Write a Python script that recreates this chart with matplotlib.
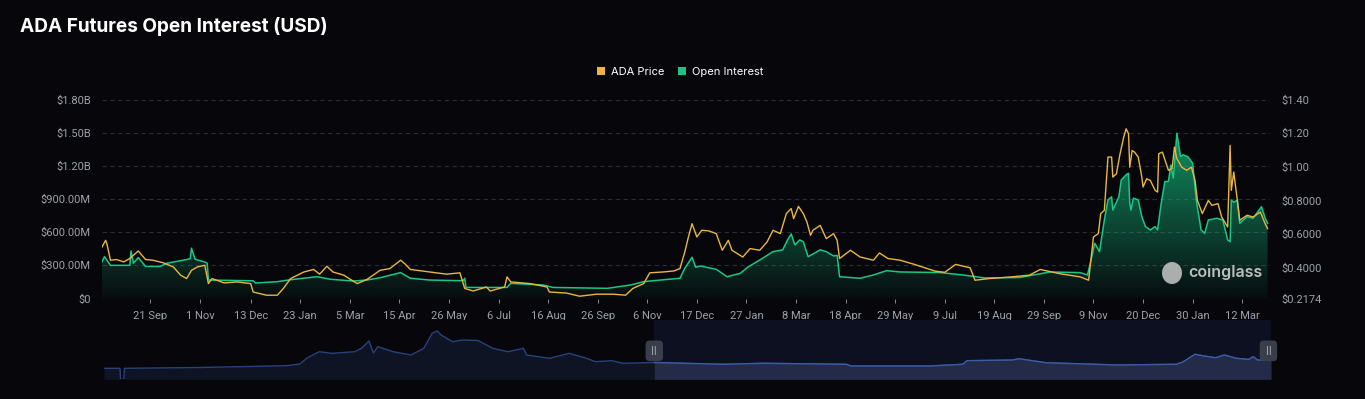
import numpy as np
import pandas as pd
import matplotlib
matplotlib.use('Agg')
import matplotlib.pyplot as plt
import matplotlib.dates as mdates
import matplotlib.transforms as mtransforms
from matplotlib.patches import Patch, Ellipse

# ---------------- data ----------------
BASE_DATE = '2022-08-12'
WINDOW_DAYS = 966

oi_days = [0, 2, 7, 23, 24, 26, 30, 36, 48, 54, 69, 73, 74, 77, 85, 87, 88, 125, 127, 145,
           156, 178, 189, 208, 219, 230, 247, 255, 271, 296, 299, 300, 301, 335, 338, 365, 373, 418, 437, 448,
           453, 478, 482, 488, 491, 495, 508, 517, 528, 534, 544, 555, 563, 567, 570, 573, 577, 580, 584, 594,
           599, 605, 608, 610, 616, 627, 638, 649, 660, 693, 714, 730, 759, 784, 809, 815, 818, 821, 825, 829,
           832, 835, 836, 841, 843, 847, 849, 850, 851, 853, 857, 860, 863, 867, 871, 873, 876, 879, 882, 884,
           886, 889, 892, 894, 898, 902, 905, 909, 912, 915, 922, 927, 931, 933, 934, 936, 939, 941, 947, 952,
           959, 962, 964]
oi_values = [0.333, 0.378, 0.30, 0.30, 0.43, 0.32, 0.37, 0.29, 0.29, 0.32, 0.35, 0.36, 0.455, 0.355, 0.33, 0.32, 0.167, 0.16, 0.14, 0.152,
             0.17, 0.197, 0.174, 0.158, 0.167, 0.188, 0.234, 0.183, 0.167, 0.161, 0.165, 0.183, 0.10, 0.10, 0.137, 0.122, 0.10, 0.092, 0.122, 0.152,
             0.158, 0.183, 0.273, 0.373, 0.283, 0.294, 0.264, 0.197, 0.228, 0.283, 0.348, 0.424, 0.44, 0.53, 0.584, 0.484, 0.53, 0.514, 0.378, 0.44,
             0.424, 0.385, 0.39, 0.197, 0.192, 0.183, 0.213, 0.252, 0.24, 0.235, 0.21, 0.186, 0.19, 0.24, 0.234, 0.213, 0.348, 0.50, 0.424, 0.71,
             0.892, 0.92, 0.80, 0.92, 1.073, 1.118, 1.133, 0.862, 0.80, 0.907, 0.892, 0.74, 0.65, 0.62, 0.65, 0.62, 0.86, 1.057, 1.06, 1.208,
             1.088, 1.495, 1.283, 1.30, 1.283, 1.224, 0.892, 0.62, 0.59, 0.71, 0.726, 0.71, 0.53, 0.514, 0.89, 0.87, 0.89, 0.68, 0.74, 0.726,
             0.83, 0.726, 0.68]  # billions USD

price_days = [0, 3, 4, 7, 12, 18, 23, 30, 36, 42, 51, 59, 65, 70, 74, 79, 85, 88, 91, 101,
              112, 123, 125, 136, 145, 150, 156, 167, 175, 180, 186, 191, 200, 211, 219, 230, 238, 247, 251, 255,
              271, 285, 296, 300, 307, 318, 321, 333, 335, 338, 354, 368, 370, 384, 395, 409, 423, 433, 439, 448,
              453, 464, 473, 478, 482, 485, 488, 492, 496, 502, 508, 513, 518, 521, 530, 536, 544, 550, 555, 561,
              566, 570, 572, 576, 580, 583, 586, 588, 594, 599, 605, 608, 610, 619, 627, 638, 643, 650, 660, 672,
              689, 697, 706, 718, 722, 734, 751, 767, 776, 792, 809, 816, 820, 824, 826, 829, 832, 835, 836, 839,
              842, 845, 847, 849, 850, 852, 854, 857, 860, 861, 864, 867, 871, 873, 874, 877, 882, 885, 887, 889,
              893, 897, 901, 904, 906, 910, 915, 918, 923, 926, 931, 933, 934, 936, 939, 941, 947, 952, 958, 962,
              964]
price_values = [0.523, 0.563, 0.544, 0.445, 0.449, 0.435, 0.455, 0.50, 0.449, 0.445, 0.429, 0.405, 0.356, 0.336, 0.385, 0.405, 0.415, 0.306, 0.336, 0.31,
                0.316, 0.306, 0.256, 0.237, 0.237, 0.277, 0.336, 0.375, 0.39, 0.362, 0.409, 0.375, 0.356, 0.306, 0.33, 0.385, 0.395, 0.445, 0.42, 0.39,
                0.375, 0.362, 0.37, 0.277, 0.262, 0.286, 0.262, 0.286, 0.346, 0.316, 0.306, 0.286, 0.256, 0.25, 0.231, 0.243, 0.243, 0.237, 0.277, 0.306,
                0.37, 0.375, 0.381, 0.395, 0.494, 0.583, 0.662, 0.583, 0.623, 0.619, 0.603, 0.504, 0.563, 0.504, 0.464, 0.514, 0.504, 0.553, 0.623, 0.603,
                0.722, 0.752, 0.692, 0.765, 0.722, 0.672, 0.593, 0.623, 0.652, 0.573, 0.603, 0.563, 0.455, 0.504, 0.464, 0.445, 0.488, 0.455, 0.445, 0.42,
                0.38, 0.373, 0.42, 0.40, 0.326, 0.336, 0.345, 0.356, 0.39, 0.365, 0.346, 0.326, 0.583, 0.603, 0.722, 0.741, 1.058, 1.058, 0.939, 0.959,
                1.078, 1.176, 1.226, 1.196, 0.998, 1.097, 1.087, 1.058, 0.939, 0.88, 0.929, 0.919, 0.86, 0.85, 1.078, 1.087, 0.979, 0.989, 1.117, 1.048,
                0.998, 0.979, 0.998, 0.919, 0.80, 0.722, 0.80, 0.771, 0.781, 0.702, 0.642, 1.127, 0.86, 0.969, 0.80, 0.682, 0.712, 0.702, 0.731, 0.662,
                0.633]  # USD

x_tick_dates = ['2022-09-21', '2022-11-01', '2022-12-13', '2023-01-23', '2023-03-05', '2023-04-15',
                '2023-05-26', '2023-07-06', '2023-08-16', '2023-09-26', '2023-11-06', '2023-12-17',
                '2024-01-27', '2024-03-08', '2024-04-18', '2024-05-29', '2024-07-09', '2024-08-19',
                '2024-09-29', '2024-11-09', '2024-12-20', '2025-01-30', '2025-03-12']
x_tick_labels = ['21 Sep', '1 Nov', '13 Dec', '23 Jan', '5 Mar', '15 Apr', '26 May', '6 Jul', '16 Aug',
                 '26 Sep', '6 Nov', '17 Dec', '27 Jan', '8 Mar', '18 Apr', '29 May', '9 Jul', '19 Aug',
                 '29 Sep', '9 Nov', '20 Dec', '30 Jan', '12 Mar']

left_ticks = [0, 0.3, 0.6, 0.9, 1.2, 1.5, 1.8]
left_tick_labels = ['$0', '$300.00M', '$600.00M', '$900.00M', '$1.20B', '$1.50B', '$1.80B']
right_ticks = [0.2174, 0.4, 0.6, 0.8, 1.0, 1.2, 1.4]
right_tick_labels = ['$0.2174', '$0.4000', '$0.6000', '$0.8000', '$1.00', '$1.20', '$1.40']

# overview (data-zoom slider) series: days relative to BASE_DATE, relative height (%)
overview_days = [-862, -837, -836, -831, -830, -712, -577, -555, -544, -525, -505, -469, -458, -447, -440,
                 -433, -409, -381, -361, -348, -340, -334, -316, -301, -276, -253, -229, -205, -200, -164,
                 -133, -109, -92, -67, -49, 0, 107, 171, 301, 308, 431, 483, 490, 561, 571,
                 613, 724, 818, 828, 847, 861, 879, 893, 912, 931, 938, 945, 966]
overview_values = [18.5, 18.5, 0, 0, 18.5, 19.9, 22.9, 25.8, 35.9, 46.5, 43.8, 46.5, 52.8, 64.6, 44.4,
                   55, 46.5, 41, 52.3, 77.6, 81.5, 74.7, 63.4, 66.3, 65.4, 52.3, 46.5, 52.3, 41, 35.4,
                   43.8, 36.4, 29.7, 31.4, 27, 28.3, 25.3, 27, 25.3, 22.4, 22.4, 25.3, 31.4, 32.5, 34.7,
                   28, 24.1, 25.3, 29.2, 42.2, 39.3, 36.4, 41, 35.4, 33.4, 38.1, 32.5, 32.5]

# ---------------- style ----------------
W, H = 1365, 399
BG = '#07070b'
GOLD = '#ebb53f'
GREEN = '#18c787'
GRID = '#2a2c34'
TICK = '#9da1a9'
TICK_FONT = ['Roboto', 'DejaVu Sans']
TEXT_FONT = ['Inter', 'DejaVu Sans']

fig = plt.figure(figsize=(W / 100, H / 100), dpi=100, facecolor=BG)

base = pd.Timestamp(BASE_DATE)
oi_x = base + pd.to_timedelta(oi_days, unit='D')
price_x = base + pd.to_timedelta(price_days, unit='D')
x0, x1 = base, base + pd.Timedelta(days=WINDOW_DAYS)

ax = fig.add_axes([102 / W, 1 - 298.5 / H, (1270 - 102) / W, (298.5 - 99.5) / H])
ax.set_facecolor(BG)
for s in ax.spines.values():
    s.set_visible(False)

# gradient area under open interest
poly = ax.fill_between(oi_x, oi_values, 0, facecolor='none', edgecolor='none')
xnum = mdates.date2num(oi_x)
frac = np.linspace(0, 1, 256)
img = np.zeros((256, 1, 4))
img[:, 0, 0] = 22 / 255
img[:, 0, 1] = 190 / 255
img[:, 0, 2] = 128 / 255
img[:, 0, 3] = 0.03 + 0.72 * frac
im = ax.imshow(img, extent=[xnum[0], xnum[-1], 0, max(oi_values)], origin='lower',
               aspect='auto', interpolation='bilinear', zorder=1)
im.set_clip_path(poly.get_paths()[0], transform=ax.transData)
ax.plot(oi_x, oi_values, color=GREEN, lw=1.1, zorder=3, solid_joinstyle='round')

ax.set_xlim(x0, x1)
ax.set_ylim(0, 1.8)
ax.set_yticks(left_ticks)
ax.set_yticklabels(left_tick_labels)
ax.grid(axis='y', color=GRID, linestyle=(0, (4, 3)), linewidth=0.8)
ax.set_axisbelow(True)
ax.set_xticks(pd.to_datetime(x_tick_dates))
ax.set_xticklabels(x_tick_labels)
ax.tick_params(axis='y', length=0, pad=8, colors=TICK, labelsize=8)
ax.tick_params(axis='x', length=3, width=0.6, pad=6, colors=TICK, labelsize=8)
for t in ax.xaxis.get_ticklines():
    t.set_color(GRID)
for lbl in ax.get_xticklabels() + ax.get_yticklabels():
    lbl.set_family(TICK_FONT)

ax2 = ax.twinx()
ax2.patch.set_visible(False)
for s in ax2.spines.values():
    s.set_visible(False)
ax2.plot(price_x, price_values, color=GOLD, lw=1.0, zorder=4, solid_joinstyle='round')
ax2.set_ylim(0.2174, 1.4)
ax2.set_yticks(right_ticks)
ax2.set_yticklabels(right_tick_labels)
ax2.tick_params(axis='y', length=0, pad=8, colors=TICK, labelsize=8)
for lbl in ax2.get_yticklabels():
    lbl.set_family(TICK_FONT)
ax2.set_xlim(x0, x1)

# title and legend
fig.text(20 / W, 1 - 27 / H, 'ADA Futures Open Interest (USD)', fontsize=13.7, weight='bold',
         color='white', va='center', ha='left', family=TEXT_FONT)
leg = fig.legend(handles=[Patch(facecolor=GOLD, label='ADA Price'),
                          Patch(facecolor=GREEN, label='Open Interest')],
                 loc='center', bbox_to_anchor=(680 / W, 1 - 72 / H), ncol=2, frameon=False,
                 labelcolor='white', handlelength=0.75, handleheight=0.75,
                 handletextpad=0.5, columnspacing=1.2, prop={'family': TEXT_FONT, 'size': 8})

# watermark
fig.text(1188 / W, 1 - 272 / H, 'coinglass', fontsize=11.5, weight='semibold', color='#d0d0d0',
         alpha=0.9, va='center', ha='left', family=TEXT_FONT)
fig.patches.append(Ellipse((1172 / W, 1 - 273 / H), 20 / W, 22 / H, transform=fig.transFigure,
                           facecolor='#c8c8c8', edgecolor='none', alpha=0.85))

# overview slider
ax3 = fig.add_axes([104 / W, (H - 379.3) / H, 1167 / W, 59.3 / H])
ax3.set_facecolor(BG)
for s in ax3.spines.values():
    s.set_visible(False)
ov_d = np.array(overview_days, dtype=float)
ov_v = np.array(overview_values, dtype=float)
ax3.axvspan(0, WINDOW_DAYS, color='#0c1020', zorder=0, lw=0)
ax3.fill_between(ov_d, ov_v, 0, color='#0e1424', lw=0, zorder=1)
ax3.plot(ov_d, ov_v, color='#28427c', lw=1.0, zorder=2)
sel = ov_d >= 0
ax3.fill_between(ov_d[sel], ov_v[sel], 0, color='#232b48', lw=0, zorder=3)
ax3.plot(ov_d[sel], ov_v[sel], color='#3d5ca3', lw=1.0, zorder=4)
ax3.set_xlim(overview_days[0], WINDOW_DAYS)
ax3.set_ylim(0, 100)
ax3.set_xticks([])
ax3.set_yticks([])
blend = mtransforms.blended_transform_factory(ax3.transData, ax3.transAxes)
for xd in [0, WINDOW_DAYS - 4]:
    ax3.text(xd, 0.48, '||', transform=blend, ha='center', va='center', fontsize=6,
             color='#c0c3cc', zorder=6, family='DejaVu Sans', clip_on=False,
             bbox=dict(boxstyle='round,pad=0.7,rounding_size=0.5', fc='#3a3e4b', ec='none'))

fig.savefig('out.png', dpi=100, facecolor=BG)
